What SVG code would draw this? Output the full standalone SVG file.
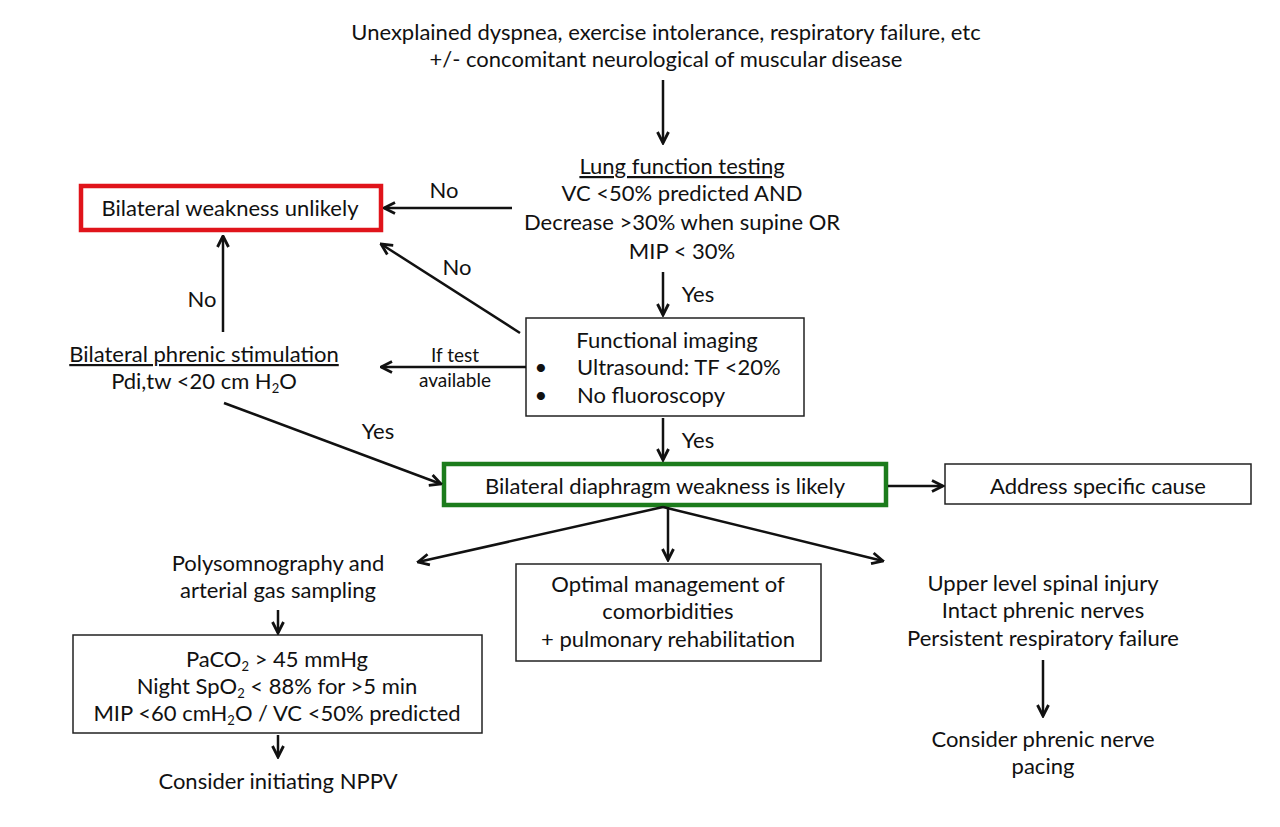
<svg xmlns="http://www.w3.org/2000/svg" width="1280" height="827" viewBox="0 0 1280 827">
<style>
text{font-family:"Lato","Open Sans","DejaVu Sans",sans-serif;font-size:22px;fill:#111;text-anchor:middle}
.sm{font-size:19px}
.st{text-anchor:start}
.sub{font-size:13px}
.box{fill:#fff;stroke:#222;stroke-width:1.5}
.red{fill:#fff;stroke:#e0141b;stroke-width:4.5}
.grn{fill:#fff;stroke:#1c7c1c;stroke-width:4.5}
.c{stroke:#111;stroke-width:2.5;fill:none;marker-end:url(#ah)}
.u{text-decoration:underline}
</style>
<defs>
<marker id="ah" viewBox="0 0 14 14" refX="12.5" refY="7" markerWidth="14" markerHeight="14" markerUnits="userSpaceOnUse" orient="auto">
<path d="M1.5,1.5 L12.5,7 L1.5,12.5" fill="none" stroke="#111" stroke-width="2.8"/>
</marker>
</defs>
<rect width="1280" height="827" fill="#fff"/>
<g id="start">
<text x="666" y="40">Unexplained dyspnea, exercise intolerance, respiratory failure, etc</text>
<text x="666" y="67">+/- concomitant neurological of muscular disease</text>
</g>
<g id="lung">
<text x="682" y="174" class="u">Lung function testing</text>
<text x="682" y="201">VC &lt;50% predicted AND</text>
<text x="682" y="230">Decrease &gt;30% when supine OR</text>
<text x="682" y="259">MIP &lt; 30%</text>
</g>
<g id="unlikely">
<rect x="81" y="186" width="300" height="44" class="red"/>
<text x="230" y="216">Bilateral weakness unlikely</text>
</g>
<g id="imaging">
<rect x="526" y="318" width="278" height="98" class="box"/>
<text x="667" y="348">Functional imaging</text>
<text x="541" y="375">•</text>
<text x="577" y="375" class="st">Ultrasound: TF &lt;20%</text>
<text x="541" y="403">•</text>
<text x="577" y="403" class="st">No fluoroscopy</text>
</g>
<g id="phrenic">
<text x="204" y="362" class="u">Bilateral phrenic stimulation</text>
<text x="204" y="389">Pdi,tw &lt;20 cm H<tspan dy="4" class="sub">2</tspan><tspan dy="-4">O</tspan></text>
</g>
<g id="likely">
<rect x="444" y="464" width="442" height="41" class="grn"/>
<text x="665" y="494">Bilateral diaphragm weakness is likely</text>
</g>
<g id="cause">
<rect x="945" y="464" width="306" height="40" class="box"/>
<text x="1098" y="494">Address specific cause</text>
</g>
<g id="polysom">
<text x="278" y="571">Polysomnography and</text>
<text x="278" y="598">arterial gas sampling</text>
</g>
<g id="criteria">
<rect x="73" y="635" width="409" height="98" class="box"/>
<text x="277" y="667">PaCO<tspan dy="4" class="sub">2</tspan><tspan dy="-4"> &gt; 45 mmHg</tspan></text>
<text x="277" y="694">Night SpO<tspan dy="4" class="sub">2</tspan><tspan dy="-4"> &lt; 88% for &gt;5 min</tspan></text>
<text x="277" y="721">MIP &lt;60 cmH<tspan dy="4" class="sub">2</tspan><tspan dy="-4">O / VC &lt;50% predicted</tspan></text>
</g>
<g id="nppv">
<text x="278" y="789">Consider initiating NPPV</text>
</g>
<g id="optimal">
<rect x="516" y="564" width="305" height="97" class="box"/>
<text x="668" y="592">Optimal management of</text>
<text x="668" y="619">comorbidities</text>
<text x="668" y="647">+ pulmonary rehabilitation</text>
</g>
<g id="spinal">
<text x="1043" y="591">Upper level spinal injury</text>
<text x="1043" y="618">Intact phrenic nerves</text>
<text x="1043" y="646">Persistent respiratory failure</text>
</g>
<g id="pacing">
<text x="1043" y="747">Consider phrenic nerve</text>
<text x="1043" y="774">pacing</text>
</g>
<g id="connectors">
<line x1="663" y1="80" x2="663" y2="143" class="c"/>
<line x1="512" y1="208" x2="384" y2="208" class="c"/>
<line x1="520" y1="333" x2="381" y2="244" class="c"/>
<line x1="663" y1="272" x2="663" y2="315" class="c"/>
<line x1="526" y1="367" x2="381" y2="367" class="c"/>
<line x1="223" y1="332" x2="223" y2="236" class="c"/>
<line x1="224" y1="403" x2="441" y2="484" class="c"/>
<line x1="663" y1="418" x2="663" y2="460" class="c"/>
<line x1="888" y1="486" x2="943" y2="486" class="c"/>
<line x1="663" y1="507" x2="418" y2="562" class="c"/>
<line x1="668" y1="507" x2="668" y2="560" class="c"/>
<line x1="663" y1="507" x2="883" y2="561" class="c"/>
<line x1="278" y1="610" x2="278" y2="633" class="c"/>
<line x1="278" y1="735" x2="278" y2="757" class="c"/>
<line x1="1043" y1="660" x2="1043" y2="716" class="c"/>
<text x="444" y="198">No</text>
<text x="457" y="275">No</text>
<text x="202" y="307">No</text>
<text x="698" y="302">Yes</text>
<text x="698" y="448">Yes</text>
<text x="378" y="439">Yes</text>
<text x="455" y="362" class="sm">If test</text>
<text x="455" y="387" class="sm">available</text>
</g>
</svg>
